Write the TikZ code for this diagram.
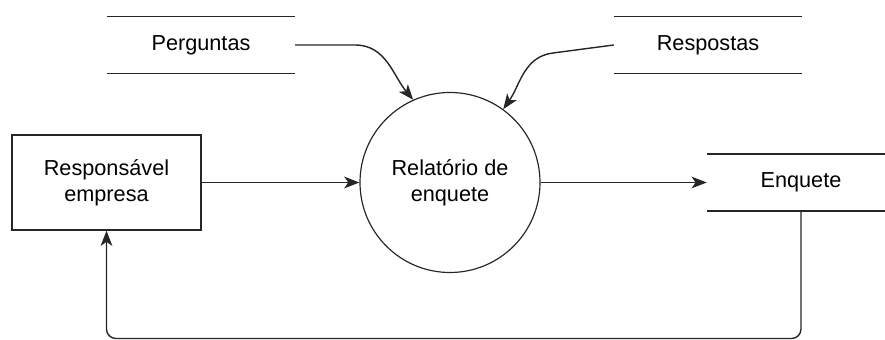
\documentclass[tikz,border=0pt]{standalone}
\usepackage{fontspec}
\setmainfont{Liberation Sans}
\usetikzlibrary{arrows.meta}
\tikzset{>={Stealth[length=13pt,width=10pt,inset=3.5pt]}}
\colorlet{myline}{black!85}
\tikzset{ % node styles
  my nodes/.style={font=\fontsize{18.5}{22}\selectfont,align=center},
  entity/.style={my nodes,draw=myline,line width=1.2pt,minimum width=5.67cm,minimum height=2.85cm},
  process/.style={my nodes,circle,draw=myline,line width=1pt,minimum size=5.4cm,inner sep=0},
  store/.style={my nodes,minimum width=5.64cm,minimum height=1.7cm},
  store line/.style={myline,line width=1.3pt},
  flow/.style={->,draw=myline,line width=1.2pt}
}

\begin{document}
\begin{tikzpicture}[x=0.03cm,y=0.03cm]
\clip (0,0) rectangle (885,340);

\node[process] (rel)  at (450,157.5)   {Relatório de\\enquete};
\node[entity]  (resp) at (106.5,157.5) {Responsável\\empresa};

\node[store] (perg)  at (201,295)   {Perguntas};
\node[store] (resps) at (708,295)   {Respostas};
\node[store] (enq)   at (801,157.5) {Enquete};

% store lines
\foreach\s in {perg,resps,enq}
{
  \draw[store line] (\s.north west) -- (\s.north east);
  \draw[store line] (\s.south west) -- (\s.south east);
}

% connections
\coordinate (pbend) at (355,295);
\coordinate (rbend) at (553,287);
\coordinate (bot)   at (450,1.5);
\draw[flow] (perg.east) -- (pbend) to[out=0,in=130] (rel.114);
\draw[flow] (resps.west) -- (rbend) to[out=187,in=55] (rel.54);
\draw[flow] (resp.east) -- (rel.west);
\draw[flow] (rel.east) -- (enq.west);
\draw[flow,rounded corners=8pt] (enq.south) |- (bot) -| (resp.south);
\end{tikzpicture}
\end{document}
